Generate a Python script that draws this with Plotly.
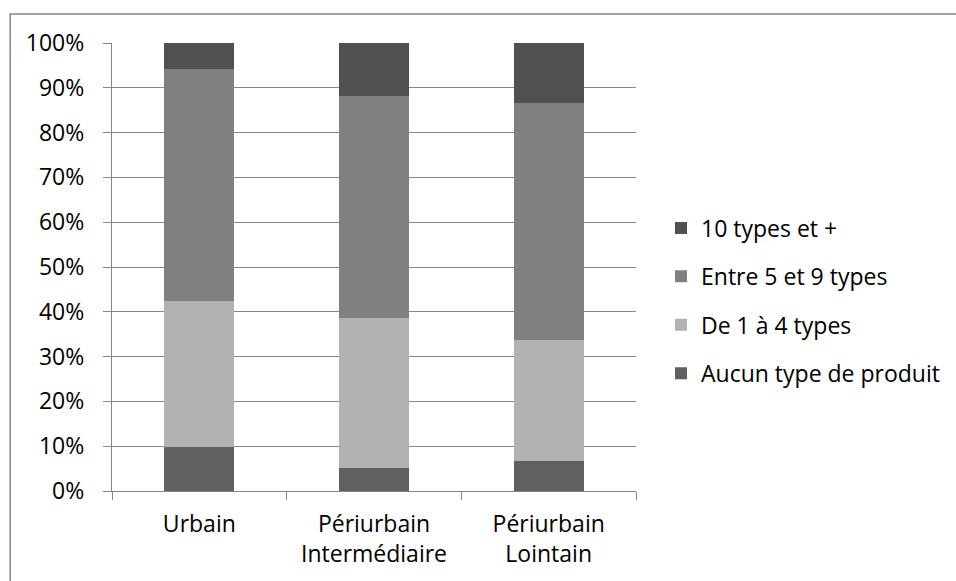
import plotly.graph_objects as go

categories = ["Urbain", "Périurbain<br>Intermédiaire", "Périurbain<br>Lointain"]
series_names = ["Aucun type de produit", "De 1 à 4 types", "Entre 5 et 9 types", "10 types et +"]
aucun = [9.9, 5.1, 6.7]
de1a4 = [32.5, 33.5, 26.9]
entre5et9 = [51.9, 49.6, 53.1]
dix_plus = [5.7, 11.8, 13.3]
series_values = [aucun, de1a4, entre5et9, dix_plus]
colors = ["#606060", "#b2b2b2", "#808080", "#505050"]
y_ticks = list(range(0, 101, 10))
y_tick_labels = [f"{v}%" for v in y_ticks]

FONT = "Open Sans"
FS = 23
GRID = "#868686"

fig = go.Figure()
n = len(series_names)
for i, (name, vals, col) in enumerate(zip(series_names, series_values, colors)):
    fig.add_trace(go.Bar(
        x=categories, y=vals, name=name, legendgroup=f"g{i}",
        legendrank=n - i,
        marker=dict(color=col, line=dict(width=0)),
    ))

W, H = 956, 581
L, R, T, B = 112, 956 - 637, 43, 581 - 491
pw, ph = W - L - R, H - T - B

def px_x(x):
    return (x - L) / pw

def px_y(y):
    return (H - B - y) / ph

fig.update_layout(
    width=W, height=H,
    margin=dict(l=L, r=R, t=T, b=B, pad=0),
    barmode="stack", bargap=0.6,
    plot_bgcolor="white", paper_bgcolor="white",
    font=dict(family=FONT, size=FS, color="#000000"),
    legend=dict(
        x=px_x(661), xanchor="left", y=px_y(301), yanchor="middle",
        traceorder="grouped", tracegroupgap=15.5,
        font=dict(family=FONT, size=FS, color="#000000"),
        bgcolor="rgba(0,0,0,0)",
    ),
    xaxis=dict(
        showline=True, linecolor=GRID, linewidth=1.3,
        ticks="outside", ticklen=8, tickcolor=GRID, tickwidth=1.3,
        tickson="boundaries", showgrid=False, ticklabelstandoff=12,
        tickfont=dict(family=FONT, size=FS, color="#000000"),
    ),
    yaxis=dict(
        range=[0, 100], tickmode="array", tickvals=y_ticks, ticktext=y_tick_labels,
        showline=True, linecolor=GRID, linewidth=1.3,
        ticks="outside", ticklen=8, tickcolor=GRID, tickwidth=1.3,
        showgrid=True, gridcolor=GRID, gridwidth=1.3,
        zeroline=False, ticklabelstandoff=14,
        tickfont=dict(family=FONT, size=FS, color="#000000"),
    ),
    shapes=[dict(
        type="rect", xref="paper", yref="paper",
        x0=px_x(10), x1=px_x(990), y0=px_y(620), y1=px_y(14),
        line=dict(color=GRID, width=1.5), fillcolor="rgba(0,0,0,0)", layer="below",
    )],
)

fig.write_html("out.html", config={"displayModeBar": False},
               post_script="document.body.style.margin='0px';")
